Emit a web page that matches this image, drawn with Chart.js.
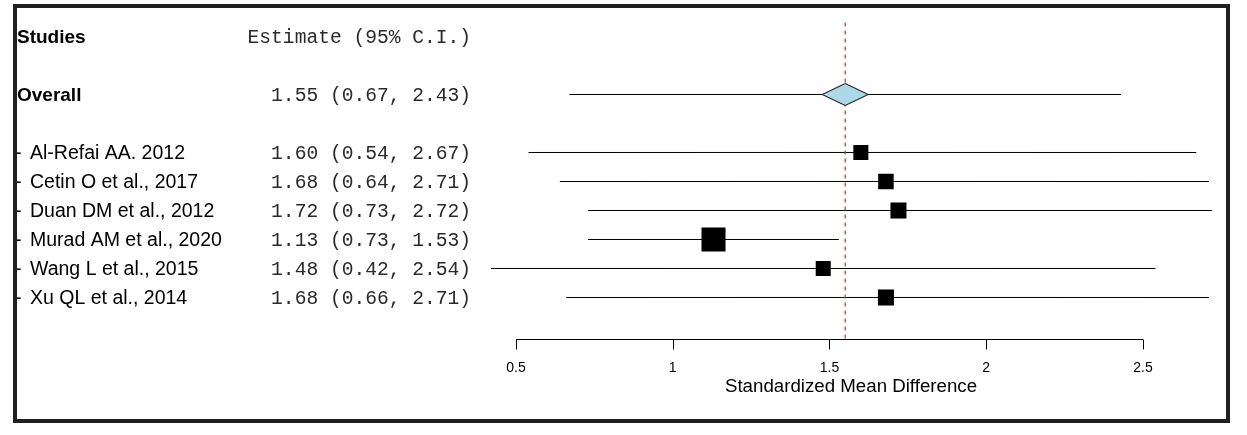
<!DOCTYPE html>
<html>
<head>
<meta charset="utf-8">
<title>Forest plot</title>
<script src="https://cdn.jsdelivr.net/npm/chart.js@4.4.0/dist/chart.umd.min.js"></script>
<style>
  html, body { margin: 0; padding: 0; background: #fff; }
  canvas { display: block; }
</style>
</head>
<body>
<canvas id="forest" width="1247" height="435"></canvas>
<script>
// ---- data ----
const studies = ['Al-Refai AA. 2012', 'Cetin O et al., 2017', 'Duan DM et al., 2012',
                 'Murad AM et al., 2020', 'Wang L et al., 2015', 'Xu QL et al., 2014'];
const estimates = [1.60, 1.68, 1.72, 1.13, 1.48, 1.68];
const lowerCI   = [0.54, 0.64, 0.73, 0.73, 0.42, 0.66];
const upperCI   = [2.67, 2.71, 2.72, 1.53, 2.54, 2.71];
const weights   = [12.7, 13.5, 14.4, 32.4, 12.7, 14.4]; // % weight (square area)
const overallEst = [1.55];
const overallLower = [0.67];
const overallUpper = [2.43];
const tickLabels = [0.5, 1, 1.5, 2, 2.5];
const axisTitle = 'Standardized Mean Difference';

// row 0 = header, row 2 = overall, studies from row 4
const overallRow = 2;
const studyRows = studies.map((s, i) => i + 4);

const SANS = '"Liberation Sans", Arial, sans-serif';
const MONO = '"Liberation Mono", "Courier New", monospace';

const fmt = (e, l, u) => e.toFixed(2) + ' (' + l.toFixed(2) + ', ' + u.toFixed(2) + ')';

// diamond marker for the pooled estimate
function makeDiamond() {
    const c = document.createElement('canvas');
    c.width = 47;
    c.height = 23;
    const g = c.getContext('2d');
    g.beginPath();
    g.moveTo(0.5, 11.5);
    g.lineTo(23.5, 0.5);
    g.lineTo(46.5, 11.5);
    g.lineTo(23.5, 22.5);
    g.closePath();
    g.fillStyle = '#add8e6';
    g.fill();
    g.lineWidth = 1;
    g.strokeStyle = '#000';
    g.stroke();
    return c;
}

const ciLines = studies.map((s, i) => ({
    data: [{ x: lowerCI[i], y: studyRows[i] }, { x: upperCI[i], y: studyRows[i] }],
    showLine: true,
    borderColor: '#000',
    borderWidth: 1,
    pointRadius: 0,
    order: 5
}));

const overallLine = {
    data: [{ x: overallLower[0], y: overallRow }, { x: overallUpper[0], y: overallRow }],
    showLine: true,
    borderColor: '#000',
    borderWidth: 1,
    pointRadius: 0,
    order: 5
};

// dashed reference line at the pooled estimate
const refLine = {
    data: [{ x: overallEst[0], y: -0.48 }, { x: overallEst[0], y: 10.43 }],
    showLine: true,
    borderColor: '#b23a3a',
    borderWidth: 1.2,
    borderDash: [4, 4],
    pointRadius: 0,
    order: 4
};

const squares = {
    data: studies.map((s, i) => ({ x: estimates[i], y: studyRows[i] })),
    pointStyle: 'rect',
    pointRadius: weights.map(w => 4.22 * Math.sqrt(w) / Math.SQRT2),
    backgroundColor: '#000',
    borderWidth: 0,
    order: 2
};

const diamond = {
    data: [{ x: overallEst[0], y: overallRow }],
    pointStyle: makeDiamond(),
    pointRadius: 12,
    order: 1
};

// text columns, bottom axis and frame
const forestDecor = {
    id: 'forestDecor',
    afterDatasetsDraw(chart) {
        const ctx = chart.ctx;
        const xs = chart.scales.x;
        const ys = chart.scales.y;
        const rowY = r => ys.getPixelForValue(r) + 1.5;
        ctx.save();
        ctx.fillStyle = '#000';
        ctx.textBaseline = 'middle';

        // header
        ctx.font = 'bold 19px ' + SANS;
        ctx.textAlign = 'left';
        ctx.fillText('Studies', 17, rowY(0));
        ctx.fillText('Overall', 17, rowY(overallRow));

        ctx.font = '19.6px ' + MONO;
        ctx.textAlign = 'right';
        ctx.fillStyle = '#2a2a2a';
        ctx.fillText('Estimate (95% C.I.)', 471, rowY(0));
        ctx.fillText(fmt(overallEst[0], overallLower[0], overallUpper[0]), 471, rowY(overallRow));

        studies.forEach((name, i) => {
            const y = rowY(studyRows[i]);
            ctx.fillStyle = '#000';
            ctx.font = '19.5px ' + SANS;
            ctx.textAlign = 'left';
            ctx.fillText('-', 15, y);
            ctx.fillText(name, 30, y);
            ctx.fillStyle = '#2a2a2a';
            ctx.font = '19.6px ' + MONO;
            ctx.textAlign = 'right';
            ctx.fillText(fmt(estimates[i], lowerCI[i], upperCI[i]), 471, y);
        });

        // x axis
        const axisY = 339.5;
        const x0 = xs.getPixelForValue(tickLabels[0]);
        const x1 = xs.getPixelForValue(tickLabels[tickLabels.length - 1]);
        ctx.strokeStyle = '#000';
        ctx.lineWidth = 1;
        ctx.beginPath();
        ctx.moveTo(x0, axisY);
        ctx.lineTo(x1, axisY);
        tickLabels.forEach(t => {
            const px = Math.round(xs.getPixelForValue(t)) + 0.5;
            ctx.moveTo(px, axisY);
            ctx.lineTo(px, axisY + 10);
        });
        ctx.stroke();

        ctx.fillStyle = '#000';
        ctx.font = '14px ' + SANS;
        ctx.textAlign = 'center';
        tickLabels.forEach(t => {
            ctx.fillText(String(t), xs.getPixelForValue(t), 368);
        });
        ctx.font = '18.7px ' + SANS;
        ctx.fillText(axisTitle, 851, 387);

        // outer frame
        ctx.strokeStyle = '#231f20';
        ctx.lineWidth = 4;
        ctx.strokeRect(15, 6, 1213, 415);
        ctx.restore();
    }
};

new Chart(document.getElementById('forest'), {
    type: 'scatter',
    data: { datasets: [...ciLines, overallLine, refLine, squares, diamond] },
    options: {
        responsive: false,
        animation: false,
        events: [],
        layout: { padding: 0, autoPadding: false },
        plugins: {
            legend: { display: false },
            tooltip: { enabled: false }
        },
        scales: {
            // 0.5 -> 516px, 2.5 -> 1143px
            x: { type: 'linear', min: -1.14593, max: 2.83174, display: false },
            // row 0 -> 36.5px, 29px per row
            y: { type: 'linear', min: -1.25862, max: 13.74138, reverse: true, display: false }
        }
    },
    plugins: [forestDecor]
});
</script>
</body>
</html>
